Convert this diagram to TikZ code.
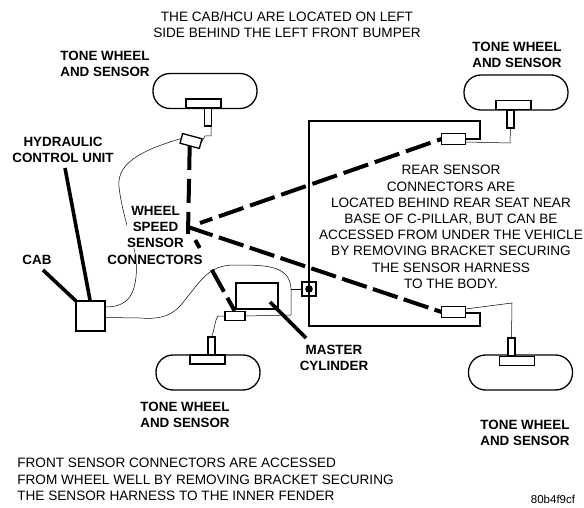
\documentclass[tikz,border=0pt]{standalone}
\usepackage{fontspec}
\setmainfont{Liberation Sans}
\tikzset{
 wheel/.style={draw,line width=1.3pt,rounded corners=17pt,minimum width=104pt,minimum height=35pt,inner sep=0pt,outer sep=0pt},
 hub/.style={draw,line width=1.3pt,fill=white,minimum width=35pt,minimum height=9pt,inner sep=0pt,outer sep=0pt},
 stem/.style={draw,line width=1.3pt,fill=white,minimum width=7pt,minimum height=18pt,inner sep=0pt,outer sep=0pt},
 conn/.style={draw,line width=1.3pt,fill=white,minimum width=24pt,minimum height=11pt,inner sep=0pt,outer sep=0pt},
 box/.style={draw,line width=1.5pt,inner sep=0pt,outer sep=0pt},
 wire/.style={line width=0.5pt},
 frame/.style={line width=1.3pt},
 thick line/.style={line width=3.6pt},
 heavy dash/.style={line width=4pt,dash pattern=on 26pt off 7pt},
 lab/.style={align=center,font=\fontsize{13.6}{16.2}\selectfont,inner sep=0pt},
 blab/.style={lab,font=\fontsize{13.4}{16.2}\selectfont\bfseries,inner sep=0pt},
}
\begin{document}
\begin{tikzpicture}[x=1pt,y=-1pt]
\useasboundingbox (0,0) rectangle (584,508);
% wheels
\node[wheel] (w1) at (205,91) {};
\node[wheel] (w2) at (516,92.5) {};
\node[wheel] (w3) at (208,372.5) {};
\node[wheel] (w4) at (520.5,372.5) {};
\node[hub] (h1) at (203.5,103.5) {};
\node[hub] (h2) at (513.5,105) {};
\node[hub] (h3) at (207.5,359.5) {};
\node[hub] (h4) at (517,361) {};
\node[stem] (s1) at (208,117) {};
\node[stem] (s2) at (510.5,119) {};
\node[stem] (s3) at (211.5,346) {};
\node[stem] (s4) at (511.5,347) {};
% frame
\coordinate (fa) at (466,139);
\coordinate (fb) at (466,313);
\draw[frame] (fa) -- (480,139) -- (480,121) -- (309,121) -- (309,326) -- (480,326) -- (480,313) -- (fb);
% connectors
\node[conn,minimum width=20pt,minimum height=10pt,rotate=-15] (c1) at (191,141) {};
\node[conn] (c2) at (453.5,139) {};
\node[conn,minimum width=20pt,minimum height=9pt] (c3) at (235,316) {};
\node[conn] (c4) at (453.5,312) {};
% wires
\coordinate (hubpt) at (188,227);
\coordinate (hubup) at (188,234);
\coordinate (hubtr) at (200,223);
\node[box,minimum width=29pt,minimum height=30pt] (cab) at (90.5,316) {};
\node[box,minimum width=42pt,minimum height=26pt] (mc) at (257,296) {};
\node[box,line width=1.2pt,minimum width=14pt,minimum height=14pt] (sq) at (309,289) {};
\fill (sq.center) circle (3.8pt);
\draw[wire] (c1.west) .. controls (150,148) and (116,160) .. (119,187) .. controls (121,205) and (127,225) .. (131,240) .. controls (135,250) and (137,260) .. (136.5,268) .. controls (136,295) and (128,307) .. (105,307);
\draw[wire] (cab.east |- 0,317.5) -- (140,318) .. controls (175,321) and (180,305) .. (193,290) .. controls (208,270) and (218,265) .. (235,265) .. controls (265,265) and (290,265) .. (291,289) -- (291,315) -- (c3.east);
\draw[wire] (291,289) -- (sq.west);
\draw[wire] (s1.south) ++(3,0) -- ++(0,10) -- ++(-6,0) -- (c1.east);
\draw[wire] (c2.east) ++(0,3) -- (510,143) -- (s2.south);
\draw[wire] (c4.east) ++(0,-3) -- (512,303) -- (s4.north);
\draw[wire] (s3.north) -- (213,333) -- (216,320) -- (218,316) -- (c3.west);
% thick leaders
\coordinate (la) at (65,168);
\coordinate (lb) at (90,300);
\coordinate (lc) at (43,270);
\coordinate (ld) at (76,301);
\coordinate (le) at (270,302);
\coordinate (lf) at (306,338);
\draw[thick line] (la) -- (lb);
\draw[thick line] (lc) -- (ld);
\draw[thick line] (le) -- (lf);
% heavy dashed
\draw[heavy dash,dash pattern=on 24pt off 9pt] (c1.south) -- (hubup);
\draw[heavy dash,dash phase=13pt] (hubtr) -- (c2.west);
\draw[heavy dash,dash pattern=on 26pt off 6.5pt] (hubpt) -- (c4.west);
\draw[heavy dash,dash pattern=on 0pt off 15pt on 9pt off 25pt on 25pt off 7pt on 15pt off 50pt] (hubpt) -- (c3.north);
% labels
\node[lab] (t1) at (287,24.5) {THE CAB/HCU ARE LOCATED ON LEFT\\SIDE BEHIND THE LEFT FRONT BUMPER};
\node[blab] (t2) at (105,63.5) {TONE WHEEL\\AND SENSOR};
\node[blab] (t3) at (517,55) {TONE WHEEL\\AND SENSOR};
\node[blab] (t4) at (63,150) {HYDRAULIC\\CONTROL UNIT};
\node[blab,fill=white] (t5) at (155.5,227) {WHEEL\\SPEED\\SENSOR};
\node[blab,fill=white] (t5b) at (155,259.5) {CONNECTORS};
\node[blab] (t6) at (37,260) {CAB};
\node[blab] (t7) at (334,358) {MASTER\\CYLINDER};
\node[blab] (t8) at (185,415) {TONE WHEEL\\AND SENSOR};
\node[blab] (t9) at (525,432.5) {TONE WHEEL\\AND SENSOR};
\node[lab] (t10) at (451,227) {REAR SENSOR\\CONNECTORS ARE\\LOCATED BEHIND REAR SEAT NEAR\\BASE OF C-PILLAR, BUT CAN BE\\ACCESSED FROM UNDER THE VEHICLE\\BY REMOVING BRACKET SECURING\\THE SENSOR HARNESS\\TO THE BODY.};
\node[lab,align=left] (t11) at (205.5,479.5) {FRONT SENSOR CONNECTORS ARE ACCESSED\\FROM WHEEL WELL BY REMOVING BRACKET SECURING\\THE SENSOR HARNESS TO THE INNER FENDER};
\node[lab,font=\fontsize{11.5}{14}\selectfont] (t12) at (553,499.5) {80b4f9cf};
\end{tikzpicture}
\end{document}
